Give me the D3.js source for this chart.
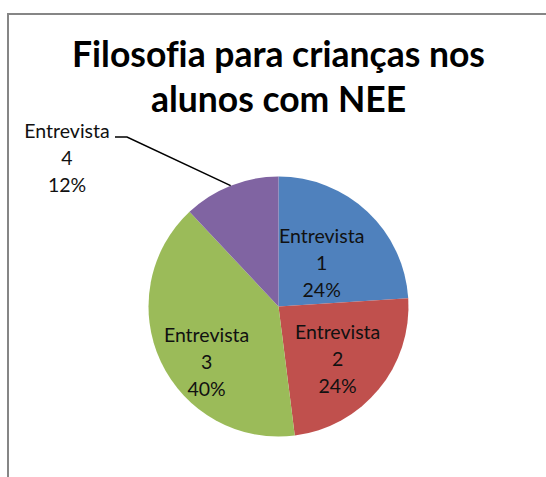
<!DOCTYPE html>
<html>
<head>
	<meta charset="utf-8">
	<title>Filosofia para crianças</title>
	<script src="https://d3js.org/d3.v7.min.js"></script>
	<style type="text/css">
		*
		{
			margin:0;
			padding:0;
		}
		body
		{
			background:#fff;
			font-family: "Lato", "Open Sans", sans-serif;
		}
		text
		{
			font-variant-ligatures: none;
		}
	</style>
</head>
<body>
	<div id="chart"></div>
	<script>
		// data
		const categories = ["Entrevista 1", "Entrevista 2", "Entrevista 3", "Entrevista 4"];
		const values = [24, 24, 40, 12];
		const colors = ["#4f81bd", "#c0504d", "#9bbb59", "#8064a2"];
		const titleLines = ["Filosofia para crianças nos", "alunos com NEE"];

		const width = 546;
		const height = 477;
		const cx = 278.5, cy = 306.5, radius = 130;

		const svg = d3.select("#chart").append("svg")
			.attr("width", width)
			.attr("height", height);

		// chart frame (only top and left edges show in the crop)
		svg.append("path")
			.attr("d", "M8," + height + " V14 H" + width)
			.attr("fill", "none")
			.attr("stroke", "#868686")
			.attr("stroke-width", 2);

		svg.append("g").selectAll("text")
			.data(titleLines)
			.enter()
			.append("text")
			.attr("x", cx)
			.attr("y", (d, i) => 67 + i*45)
			.attr("text-anchor", "middle")
			.style("font-size", "35.5px")
			.style("font-weight", "bold")
			.attr("fill", "#000")
			.text(d => d);

		const total = d3.sum(values);
		const pie = d3.pie().sort(null).value(d => d);
		const arcs = pie(values);
		const arc = d3.arc().innerRadius(0).outerRadius(radius);

		const g = svg.append("g").attr("transform", "translate(" + cx + "," + cy + ")");

		g.selectAll("path")
			.data(arcs)
			.enter()
			.append("path")
			.attr("d", arc)
			.attr("fill", (d, i) => colors[i]);

		// inside labels: centroid with small nudges like excel's best fit
		const labelArc = d3.arc().innerRadius(radius*0.62).outerRadius(radius*0.62);
		const nudge = [[-12, 16], [-3, 2], [1, 22]];
		const lineGap = 27;

		function labelLines(d, i) {
			const parts = categories[i].split(" ");
			return [parts[0], parts[1], Math.round(d.value/total*100) + "%"];
		}

		arcs.forEach((d, i) => {
			let x, y;
			if (i < 3) {
				const c = labelArc.centroid(d);
				x = c[0] + nudge[i][0];
				y = c[1] + nudge[i][1];
			} else {
				// outside label with leader line
				const mid = (d.startAngle + d.endAngle)/2;
				const p0 = [Math.sin(mid)*radius, -Math.cos(mid)*radius];
				const elbow = [127 - cx, 137 - cy];
				g.append("polyline")
					.attr("points", [p0, elbow, [elbow[0] - 12, elbow[1]]].map(p => p.join(",")).join(" "))
					.attr("fill", "none")
					.attr("stroke", "#000")
					.attr("stroke-width", 1.5);
				x = 67 - cx;
				y = 158 - cy;
			}
			const t = g.append("text")
				.attr("text-anchor", "middle")
				.style("font-size", "19.5px")
				.attr("fill", "#111");
			labelLines(d, i).forEach((s, k) => {
				t.append("tspan")
					.attr("x", x)
					.attr("y", y + (k - 1)*lineGap + 6.5)
					.text(s);
			});
		});
	</script>
</body>
</html>
